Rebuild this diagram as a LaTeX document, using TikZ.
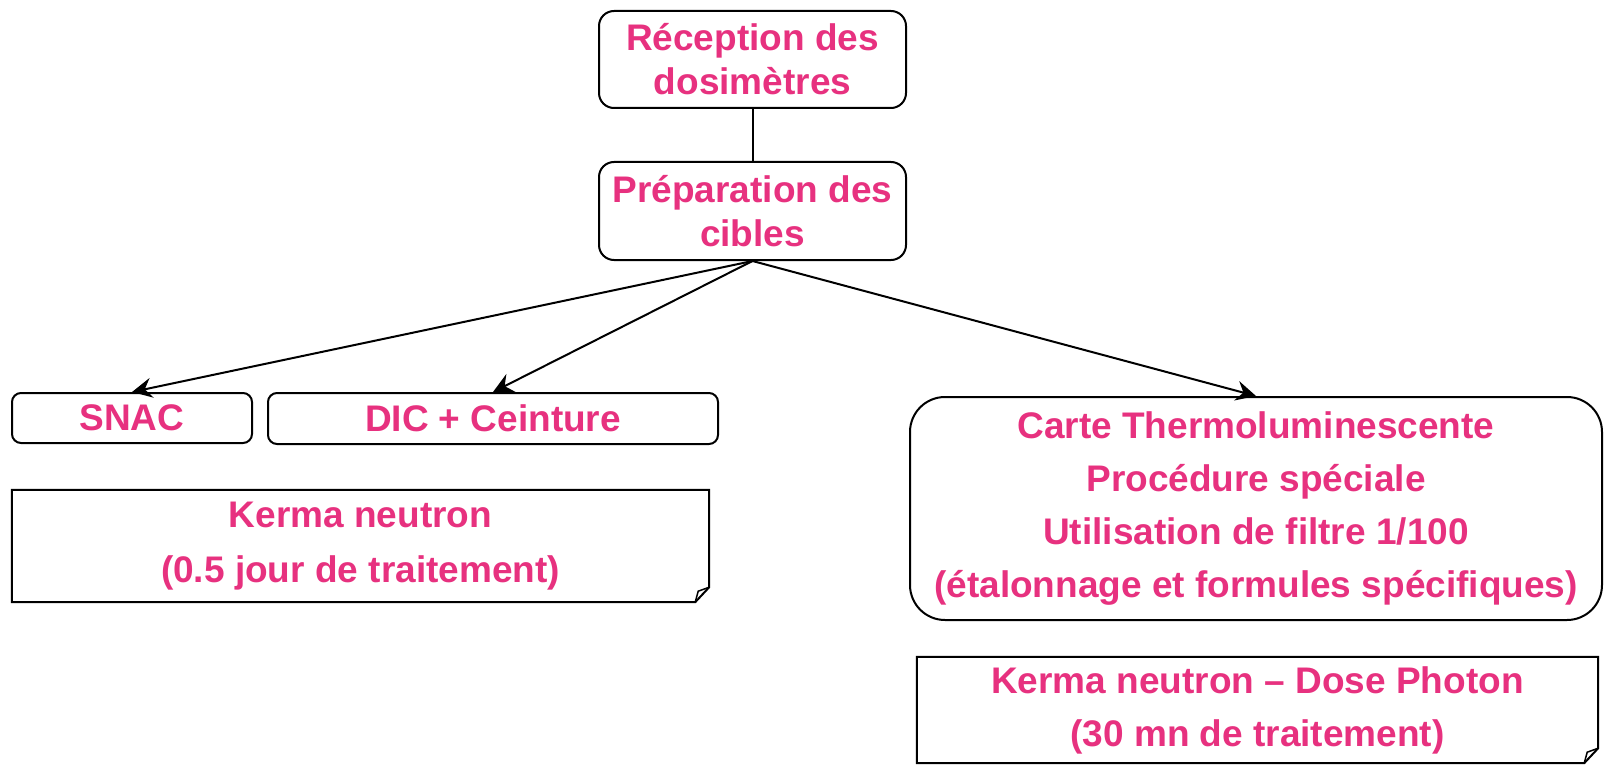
\documentclass[tikz,border=0pt]{standalone}
\usepackage{fontspec}
\setmainfont{Liberation Sans}
\usetikzlibrary{arrows.meta}
\definecolor{pinktxt}{RGB}{231,49,127}
\begin{document}
\begin{tikzpicture}[x=1pt,y=-1pt,
  txt/.style={text=pinktxt, align=center, font=\bfseries\fontsize{37}{44}\selectfont, inner sep=0pt},
  rbox/.style={txt, draw=black, line width=2pt, rounded corners=15pt},
  arr/.style={line width=2pt, -{Stealth[length=20pt,width=20pt,inset=7pt]}},
  plain/.style={line width=2pt}]
\useasboundingbox[fill=white] (0,0) rectangle (1604,765);
\node[rbox, minimum width=307pt, minimum height=97pt] (b1) at (752.5,59.5) {Réception des\\dosimètres};
\node[rbox, minimum width=307pt, minimum height=98pt] (b2) at (752.5,211) {Préparation des\\cibles};
\node[rbox, rounded corners=9pt, minimum width=240pt, minimum height=50pt] (snac) at (132,418) {SNAC};
\node[rbox, rounded corners=9pt, minimum width=450pt, minimum height=51pt] (dic) at (493,418.5) {DIC + Ceinture};
\node[rbox, rounded corners=35pt, minimum width=692pt, minimum height=223pt, font=\bfseries\fontsize{37}{53}\selectfont] (carte) at (1256,508.5)
  {Carte Thermoluminescente\\Procédure spéciale\\Utilisation de filtre 1/100\\(étalonnage et formules spécifiques)};
\node[txt, minimum width=697pt, minimum height=112pt, font=\bfseries\fontsize{37}{55}\selectfont] (note1) at (360.5,546)
  {Kerma neutron\\(0.5 jour de traitement)};
\node[txt, minimum width=681pt, minimum height=106pt, font=\bfseries\fontsize{37}{53}\selectfont] (note2) at (1257.5,710)
  {Kerma neutron – Dose Photon\\(30 mn de traitement)};
% folded-corner notes
\foreach \n in {note1,note2}{
  \draw[plain, line join=miter] (\n.north west) -- (\n.north east) -- ([yshift=15pt]\n.south east)
    -- ([xshift=-14pt]\n.south east) -- (\n.south west) -- cycle;
  \draw[line width=1.5pt, line join=miter] ([xshift=-14pt]\n.south east) -- ([xshift=-11pt,yshift=11pt]\n.south east) -- ([yshift=15pt]\n.south east);
}
\draw[plain] (b1) -- (b2);
\draw[arr] (b2.south) -- (snac.north);
\draw[arr] (b2.south) -- (dic.north);
\draw[arr] (b2.south) -- (carte.north);
\end{tikzpicture}
\end{document}
